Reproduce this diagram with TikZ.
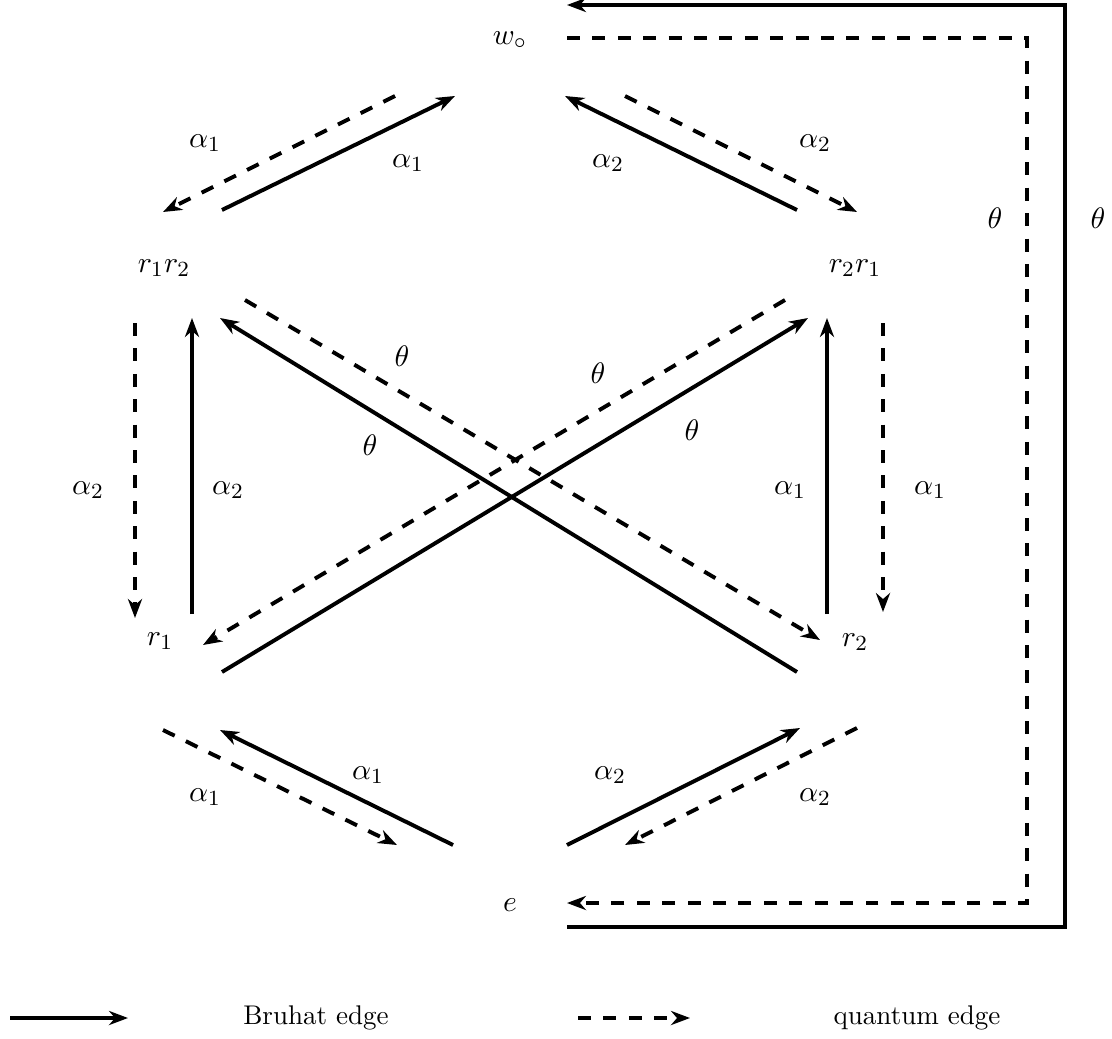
\documentclass[tikz,border=0pt]{standalone}
\usetikzlibrary{arrows.meta}
\begin{document}
\begin{tikzpicture}[x=0.37pt,y=-0.37pt,
  edge/.style={line width=1.45pt,-{Stealth[length=7pt,width=5.2pt,inset=2.2pt]}},
  bruhat/.style={edge},
  quantum/.style={edge,dash pattern=on 4.8pt off 4.6pt},
  vert/.style={inner sep=1pt,font=\fontsize{10.8}{13}\selectfont},
  lab/.style={inner sep=1pt,font=\fontsize{10.8}{13}\selectfont}]
\useasboundingbox (0,0) rectangle (1112,1039);

% vertices of the quantum Bruhat graph
\node[vert] (w)   at (510,40)  {$w_\circ$};
\node[vert] (r12) at (164,268) {$r_1r_2$};
\node[vert] (r21) at (855,268) {$r_2r_1$};
\node[vert] (r1)  at (160,641) {$r_1$};
\node[vert] (r2)  at (855,642) {$r_2$};
\node[vert] (e)   at (510,905) {$e$};

% edge end points
\coordinate (a1) at (222,210); \coordinate (a2) at (455,96);
\coordinate (b1) at (395,96);  \coordinate (b2) at (163,212);
\coordinate (c1) at (797,210); \coordinate (c2) at (565,96);
\coordinate (d1) at (625,96);  \coordinate (d2) at (857,212);
\coordinate (f1) at (135,323); \coordinate (f2) at (135,618);
\coordinate (g1) at (192,614); \coordinate (g2) at (192,318);
\coordinate (h1) at (827,614); \coordinate (h2) at (827,318);
\coordinate (i1) at (883,323); \coordinate (i2) at (883,612);
\coordinate (j1) at (797,672); \coordinate (j2) at (220,318);
\coordinate (k1) at (245,300); \coordinate (k2) at (820,640);
\coordinate (l1) at (222,672); \coordinate (l2) at (808,318);
\coordinate (m1) at (785,300); \coordinate (m2) at (203,645);
\coordinate (n1) at (453,845); \coordinate (n2) at (220,730);
\coordinate (o1) at (163,730); \coordinate (o2) at (397,845);
\coordinate (p1) at (567,845); \coordinate (p2) at (800,728);
\coordinate (q1) at (857,728); \coordinate (q2) at (625,845);
\coordinate (s1) at (567,38);  \coordinate (s2) at (1027,38);
\coordinate (s3) at (1027,903); \coordinate (s4) at (567,903);
\coordinate (t1) at (567,927); \coordinate (t2) at (1065,927);
\coordinate (t3) at (1065,5);  \coordinate (t4) at (567,5);

% top
\draw[bruhat]  (a1) -- (a2);
\draw[quantum] (b1) -- (b2);
\draw[bruhat]  (c1) -- (c2);
\draw[quantum] (d1) -- (d2);
\node[lab] (la) at (408,163) {$\alpha_1$};
\node[lab] (lb) at (205,143) {$\alpha_1$};
\node[lab] (lc) at (608,163) {$\alpha_2$};
\node[lab] (ld) at (815,143) {$\alpha_2$};

% sides
\draw[quantum] (f1) -- (f2);
\draw[bruhat]  (g1) -- (g2);
\draw[bruhat]  (h1) -- (h2);
\draw[quantum] (i1) -- (i2);
\node[lab] (lf) at (88,490)  {$\alpha_2$};
\node[lab] (lg) at (228,490) {$\alpha_2$};
\node[lab] (lh) at (790,490) {$\alpha_1$};
\node[lab] (li) at (930,490) {$\alpha_1$};

% crossing edges
\draw[bruhat]  (j1) -- (j2);
\draw[quantum] (k1) -- (k2);
\draw[bruhat]  (l1) -- (l2);
\draw[quantum] (m1) -- (m2);
\node[lab] (lj) at (370,445) {$\theta$};
\node[lab] (lk) at (402,356) {$\theta$};
\node[lab] (ll) at (692,430) {$\theta$};
\node[lab] (lm) at (598,373) {$\theta$};

% bottom
\draw[bruhat]  (n1) -- (n2);
\draw[quantum] (o1) -- (o2);
\draw[bruhat]  (p1) -- (p2);
\draw[quantum] (q1) -- (q2);
\node[lab] (ln) at (368,775) {$\alpha_1$};
\node[lab] (lo) at (205,797) {$\alpha_1$};
\node[lab] (lp) at (610,775) {$\alpha_2$};
\node[lab] (lq) at (815,797) {$\alpha_2$};

% outer theta edges
\draw[quantum] (s1) -- (s2) -- (s3) -- (s4);
\draw[bruhat]  (t1) -- (t2) -- (t3) -- (t4);
\node[lab] (ls) at (995,218)  {$\theta$};
\node[lab] (lt) at (1098,218) {$\theta$};

% legend
\coordinate (u1) at (10,1018);  \coordinate (u2) at (128,1018);
\coordinate (v1) at (578,1018); \coordinate (v2) at (690,1018);
\draw[bruhat]  (u1) -- (u2);
\draw[quantum] (v1) -- (v2);
\node (lu) at (316,1018) {Bruhat edge};
\node (lv) at (917,1018) {quantum edge};
\end{tikzpicture}
\end{document}
